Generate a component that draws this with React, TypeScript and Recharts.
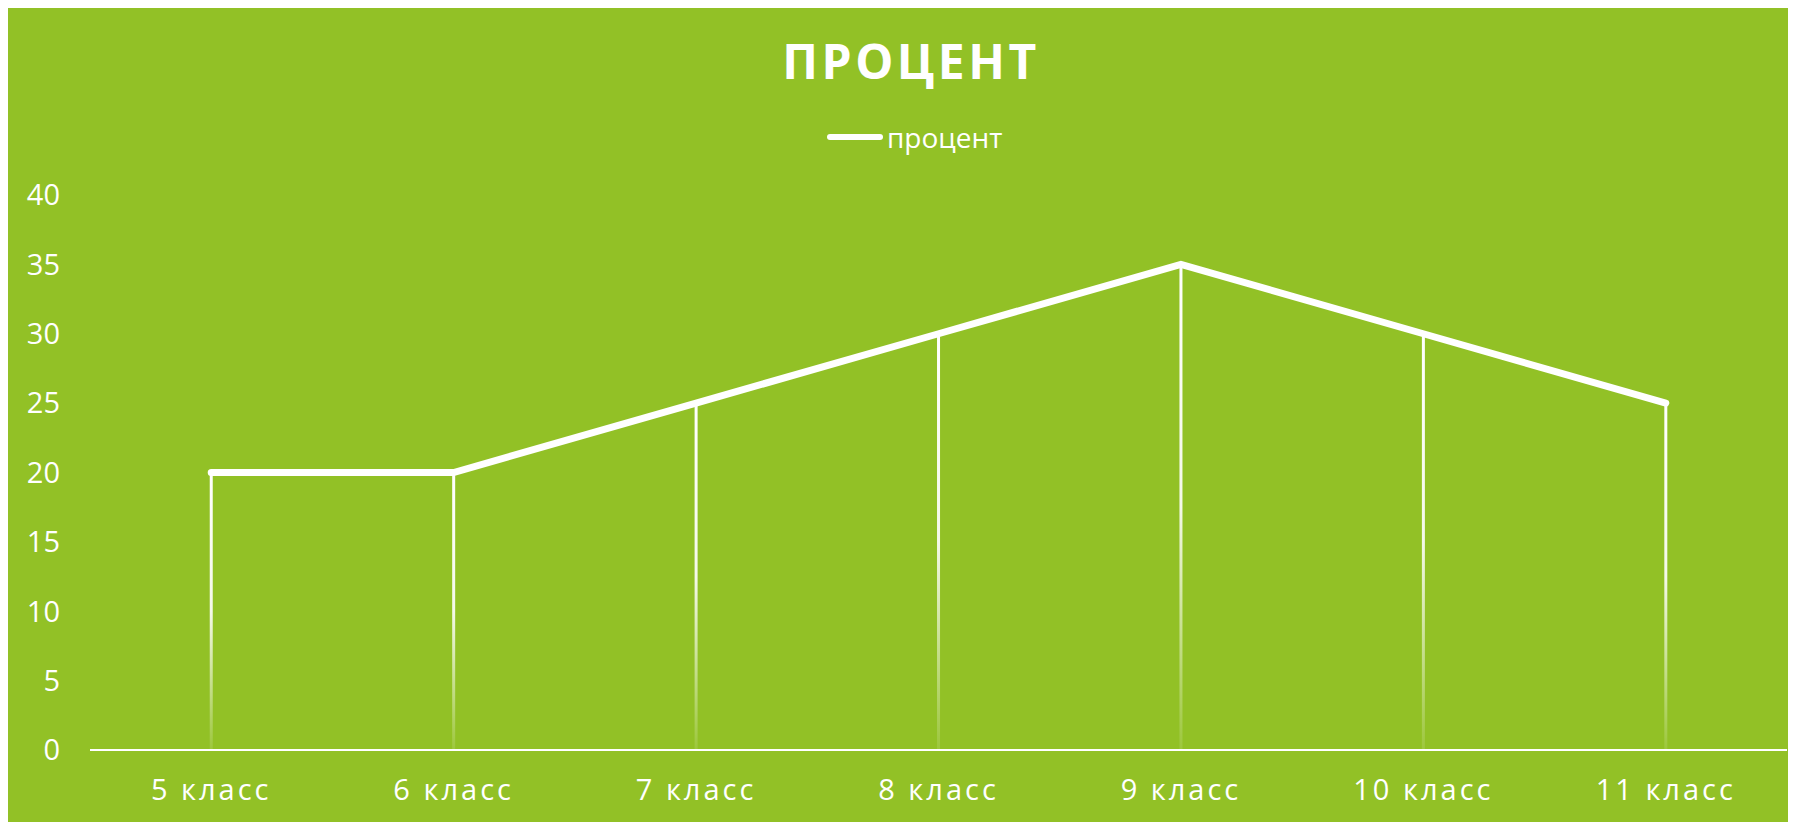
import React from "react";
import {
  ComposedChart,
  Line,
  Bar,
  XAxis,
  YAxis,
} from "recharts";

const grades = ["5 класс", "6 класс", "7 класс", "8 класс", "9 класс", "10 класс", "11 класс"];
const percent = [20, 20, 25, 30, 35, 30, 25];
const yTicks = [0, 5, 10, 15, 20, 25, 30, 35, 40];

const data = grades.map((g, i) => ({ name: g, value: percent[i] }));

const GREEN = "#92C126";
const FONT = "'Open Sans', sans-serif";

// thin fading line from each point down to the axis
const DropLine = (props: any) => {
  const { x, y, width, height } = props;
  if (height == null || height <= 0) return null;
  return (
    <rect
      x={x + width / 2 - 1.5}
      y={y}
      width={3}
      height={height}
      fill="url(#dropFade)"
    />
  );
};

export default function App() {
  return (
    <div
      style={{
        position: "relative",
        width: 1788,
        height: 814,
        background: GREEN,
        fontFamily: FONT,
      }}
    >
      <div
        style={{
          position: "absolute",
          top: 29,
          left: 9,
          width: "100%",
          textAlign: "center",
          color: "#fff",
          fontSize: 48,
          lineHeight: "48px",
          fontWeight: 700,
          letterSpacing: 3.5,
        }}
      >
        ПРОЦЕНТ
      </div>
      <div
        style={{
          position: "absolute",
          top: 114,
          left: 819,
          height: 30,
          display: "flex",
          alignItems: "center",
          color: "#fff",
          fontSize: 28,
          lineHeight: "30px",
        }}
      >
        <span
          style={{
            display: "inline-block",
            width: 56,
            height: 6,
            borderRadius: 3,
            background: "#fff",
            marginRight: 4,
          }}
        />
        <span>процент</span>
      </div>
      <ComposedChart
        width={1788}
        height={814}
        data={data}
        margin={{ top: 187, right: 9, bottom: 12, left: 0 }}
        style={{ position: "absolute", top: 0, left: 0 }}
      >
        <defs>
          <linearGradient id="dropFade" x1="0" y1="0" x2="0" y2="1">
            <stop offset="0%" stopColor="#fff" stopOpacity={1} />
            <stop offset="50%" stopColor="#fff" stopOpacity={0.9} />
            <stop offset="100%" stopColor="#fff" stopOpacity={0.1} />
          </linearGradient>
        </defs>
        <XAxis
          dataKey="name"
          height={60}
          tickLine={false}
          tickSize={0}
          tickMargin={29}
          axisLine={{ stroke: "#fff", strokeWidth: 2 }}
          tick={{ fill: "#fff", fontSize: 29, fontFamily: FONT, letterSpacing: 3 }}
          interval={0}
        />
        <YAxis
          width={82}
          domain={[0, 40]}
          ticks={yTicks}
          tickLine={false}
          axisLine={false}
          tickSize={0}
          tickMargin={30}
          tick={{ fill: "#fff", fontSize: 29, fontFamily: FONT }}
        />
        <Bar dataKey="value" shape={DropLine} isAnimationActive={false} legendType="none" />
        <Line
          type="linear"
          dataKey="value"
          stroke="#fff"
          strokeWidth={7}
          strokeLinecap="round"
          dot={false}
          activeDot={false}
          isAnimationActive={false}
        />
      </ComposedChart>
    </div>
  );
}
